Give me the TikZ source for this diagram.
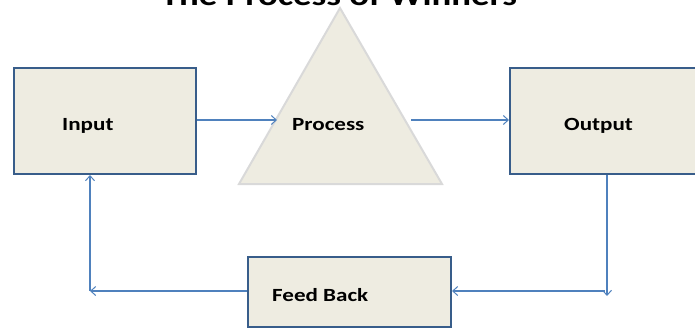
\documentclass[tikz,border=0pt]{standalone}
\usepackage{fontspec}
\newfontfamily\lblfont{Carlito}[FakeStretch=1.24]
\usetikzlibrary{arrows.meta}
\definecolor{boxfill}{HTML}{EEECE1}
\definecolor{boxline}{HTML}{385D8A}
\definecolor{triline}{HTML}{D9D9D9}
\definecolor{conn}{HTML}{4F81BD}
\begin{document}
\begin{tikzpicture}[x=1pt,y=-1pt,
  blockbox/.style={draw=boxline,line width=2pt,fill=boxfill,inner sep=0pt,anchor=north west},
  lbl/.style={anchor=base west,inner sep=0pt,font=\lblfont\bfseries\fontsize{18.6}{20}\selectfont},
  conline/.style={draw=conn,line width=1.1pt,-{Straight Barb[length=5pt,width=9pt,line width=1pt]}}]
\useasboundingbox (0,0) rectangle (695,327);
\clip (0,0) rectangle (695,327);
% title
\node[anchor=base,inner sep=0pt,font=\lblfont\bfseries\fontsize{29.7}{32}\selectfont] (title) at (339,5) {The Process of Winners};
% boxes
\node[blockbox,minimum width=182pt,minimum height=106pt] (input) at (13,67) {};
\node[blockbox,minimum width=220pt,minimum height=106pt] (output) at (509,67) {};
\node[blockbox,minimum width=203pt,minimum height=70pt] (feed) at (247,256) {};
% triangle
\filldraw[fill=boxfill,draw=triline,line width=2pt,line join=miter] (340,8) -- (442,184) -- (239,184) -- cycle;
% labels
\node[lbl] (tin) at (62,130) {Input};
\node[lbl] (tpr) at (292,130) {Process};
\node[lbl] (tout) at (564,130) {Output};
\node[lbl] (tfb) at (272,301) {Feed Back};
% connector coordinates
\coordinate (pl) at (277,120);
\coordinate (pr) at (411,120);
\coordinate (od) at (607,296);
\coordinate (oc) at (605,291);
\coordinate (fl) at (90,291);
% connectors
\draw[conline] (input.east |- pl) -- (pl);
\draw[conline] (pr) -- (output.west |- pr);
\draw[conline] (output.south -| od) -- (od);
\draw[conline] (oc) -- (feed.east |- oc);
\draw[conline] (feed.west |- fl) -- (fl);
\draw[conline] (fl) -- (input.south -| fl);
\end{tikzpicture}
\end{document}
